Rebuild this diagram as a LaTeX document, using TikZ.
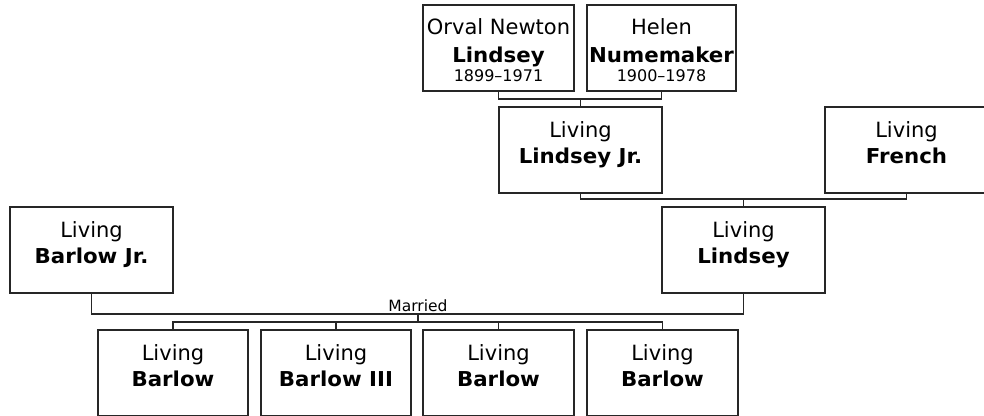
\documentclass[tikz,border=0pt]{standalone}
\usepackage{fontspec}
\setmainfont{DejaVu Sans}[BoldFeatures={FakeStretch=1.04}]
\usetikzlibrary{calc}
\tikzset{
  box/.style={draw=black!85, line width=1.2pt, fill=white, anchor=north west, inner sep=0pt, outer sep=0pt, minimum height=86pt},
  bigbox/.style={box, minimum width=163pt},
  smallbox/.style={box, minimum width=150pt},
  nm/.style={anchor=base, inner sep=0pt, font=\fontsize{21}{24}\selectfont},
  bnm/.style={nm, font=\fontsize{20.5}{24}\selectfont\bfseries},
  dt/.style={anchor=base, inner sep=0pt, font=\fontsize{16}{18}\selectfont},
  conn/.style={draw=black!85, line width=1.2pt},
}
\begin{document}
\begin{tikzpicture}[x=1pt,y=-1pt]
\useasboundingbox (0,0) rectangle (984,415);
\begin{scope}
\clip (0,0) rectangle (984,415);
% boxes
\node[smallbox, minimum width=151pt] (orval) at (423,5) {};
\node[smallbox, minimum width=149pt] (helen) at (587,5) {};
\node[bigbox] (ljr) at (499,107) {};
\node[bigbox] (french) at (825,107) {};
\node[bigbox] (lindsey) at (662,207) {};
\node[bigbox] (barjr) at (10,207) {};
\node[smallbox] (c1) at (98,330) {};
\node[smallbox] (c2) at (261,330) {};
\node[smallbox, minimum width=151pt] (c3) at (423,330) {};
\node[smallbox, minimum width=151pt] (c4) at (587,330) {};

% texts
\node[nm]  (orval1) at ($(orval.north)+(0,29)$) {Orval Newton};
\node[bnm] (orval2) at ($(orval.north)+(0,57)$) {Lindsey};
\node[dt]  (orval3) at ($(orval.north)+(0,76)$) {1899–1971};
\node[nm]  (helen1) at ($(helen.north)+(0,29)$) {Helen};
\node[bnm] (helen2) at ($(helen.north)+(0,57)$) {Numemaker};
\node[dt]  (helen3) at ($(helen.north)+(0,76)$) {1900–1978};

\node[nm]  (ljr1) at ($(ljr.north)+(0,30)$) {Living};
\node[bnm] (ljr2) at ($(ljr.north)+(0,56)$) {Lindsey Jr.};
\node[nm]  (french1) at ($(french.north)+(0,30)$) {Living};
\node[bnm] (french2) at ($(french.north)+(0,56)$) {French};
\node[nm]  (lindsey1) at ($(lindsey.north)+(0,30)$) {Living};
\node[bnm] (lindsey2) at ($(lindsey.north)+(0,56)$) {Lindsey};
\node[nm]  (barjr1) at ($(barjr.north)+(0,30)$) {Living};
\node[bnm] (barjr2) at ($(barjr.north)+(0,56)$) {Barlow Jr.};
\node[nm]  (c11) at ($(c1.north)+(0,30)$) {Living};
\node[bnm] (c12) at ($(c1.north)+(0,56)$) {Barlow};
\node[nm]  (c21) at ($(c2.north)+(0,30)$) {Living};
\node[bnm] (c22) at ($(c2.north)+(0,56)$) {Barlow III};
\node[nm]  (c31) at ($(c3.north)+(0,30)$) {Living};
\node[bnm] (c32) at ($(c3.north)+(0,56)$) {Barlow};
\node[nm]  (c41) at ($(c4.north)+(0,30)$) {Living};
\node[bnm] (c42) at ($(c4.north)+(0,56)$) {Barlow};

% connectors
\path[conn] (orval.south) -- ++(0,8) -| (helen.south);
\path[conn] (ljr.north) -- ++(0,-8);
\path[conn] (ljr.south) -- ++(0,6) -| (french.south);
\path[conn] (lindsey.north) -- ++(0,-8);
\coordinate (mar) at (418,314);
\coordinate (kids) at (418,322);
\path[conn] (barjr.south) |- (mar) -| (lindsey.south);
\path[conn] (mar) -- (kids);
\path[conn] (c1.north) -- ++(0,-8) -| (c4.north);
\path[conn] (c2.north) -- ++(0,-8);
\path[conn] (c3.north) -- ++(0,-8);
\node[dt, font=\fontsize{15.5}{18}\selectfont] (married) at (418,311) {Married};
\end{scope}
\end{tikzpicture}
\end{document}
